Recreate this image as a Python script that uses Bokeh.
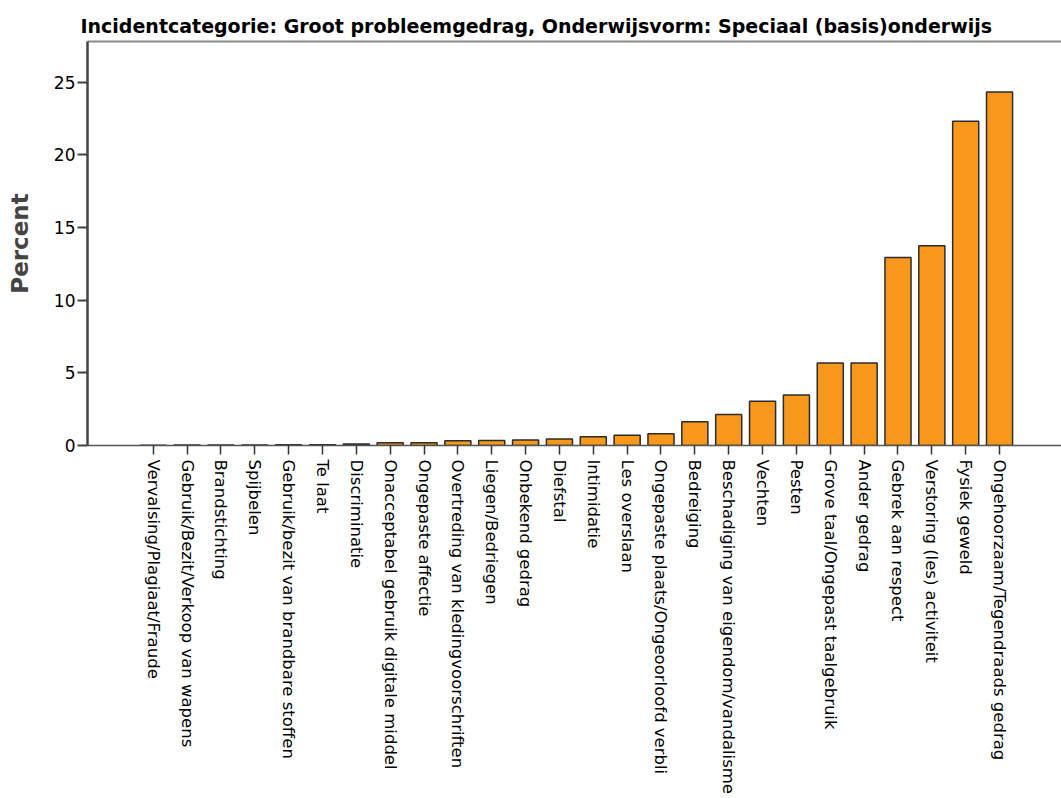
import math
from bokeh.plotting import figure
from bokeh.models import FixedTicker, LinearAxis, Range1d
from bokeh.embed import file_html
from bokeh.resources import INLINE

title_text = "Incidentcategorie: Groot probleemgedrag, Onderwijsvorm: Speciaal (basis)onderwijs"
y_label = "Percent"

categories = [
    "Vervalsing/Plagiaat/Fraude",
    "Gebruik/Bezit/Verkoop van wapens",
    "Brandstichting",
    "Spijbelen",
    "Gebruik/bezit van brandbare stoffen",
    "Te laat",
    "Discriminatie",
    "Onacceptabel gebruik digitale middel",
    "Ongepaste affectie",
    "Overtreding van kledingvoorschriften",
    "Liegen/Bedriegen",
    "Onbekend gedrag",
    "Diefstal",
    "Intimidatie",
    "Les overslaan",
    "Ongepaste plaats/Ongeoorloofd verbli",
    "Bedreiging",
    "Beschadiging van eigendom/vandalisme",
    "Vechten",
    "Pesten",
    "Grove taal/Ongepast taalgebruik",
    "Ander gedrag",
    "Gebrek aan respect",
    "Verstoring (les) activiteit",
    "Fysiek geweld",
    "Ongehoorzaam/Tegendraads gedrag",
]

percent = [
    0.01, 0.03, 0.04, 0.04, 0.06, 0.06, 0.10, 0.19, 0.19, 0.33,
    0.35, 0.37, 0.45, 0.60, 0.70, 0.80, 1.63, 2.13, 3.04, 3.48,
    5.68, 5.68, 12.93, 13.74, 22.32, 24.33,
]

y_ticks = [0, 5, 10, 15, 20, 25]

positions = list(range(len(categories)))

p = figure(
    width=1061, height=798,
    output_backend="svg", toolbar_location=None,
    x_range=Range1d(-1.94, 26.83), y_range=Range1d(0, 27.8),
    min_border_left=87, min_border_top=41, min_border_bottom=353, min_border_right=0,
)
p.background_fill_color = "white"
p.border_fill_color = "white"
p.outline_line_color = None
p.xgrid.visible = False
p.ygrid.visible = False

p.vbar(x=positions, top=percent, width=0.77, bottom=0,
       fill_color="#F7981D", line_color="#2b2b2b", line_width=1.5)

# title
p.title.text = title_text
p.title.text_font = "DejaVu Sans"
p.title.text_font_style = "bold"
p.title.text_font_size = "19px"
p.title.align = "left"
p.title.offset = -7
p.title.text_color = "black"

# x axis
xa = p.xaxis[0]
xa.ticker = FixedTicker(ticks=positions)
xa.major_label_overrides = {i: c for i, c in zip(positions, categories)}
xa.major_label_orientation = -math.pi / 2
xa.major_label_text_font = "DejaVu Sans"
xa.major_label_text_font_size = "16.5px"
xa.major_label_text_color = "black"
xa.major_label_standoff = 5
xa.major_tick_in = 0
xa.major_tick_out = 9
xa.major_tick_line_color = "#333333"
xa.major_tick_line_width = 1.5
xa.minor_tick_line_color = None
xa.axis_line_color = "#555555"
xa.axis_line_width = 1.5

# y axis
ya = p.yaxis[0]
ya.ticker = FixedTicker(ticks=y_ticks)
ya.axis_label = y_label
ya.axis_label_text_font = "DejaVu Sans"
ya.axis_label_text_font_style = "bold"
ya.axis_label_text_font_size = "23px"
ya.axis_label_standoff = 18
ya.major_label_text_font = "DejaVu Sans"
ya.major_label_text_font_size = "17px"
ya.major_label_text_color = "black"
ya.major_label_standoff = 2
ya.major_tick_in = 0
ya.major_tick_out = 10
ya.major_tick_line_color = "#444444"
ya.major_tick_line_width = 2
ya.minor_tick_line_color = None
ya.axis_line_color = "#444444"
ya.axis_line_width = 2.5

# top frame line
top = LinearAxis(ticker=FixedTicker(ticks=[]), axis_line_color="#8a8a8a", axis_line_width=2,
                 major_tick_line_color=None, minor_tick_line_color=None,
                 major_label_text_font_size="0px", major_label_standoff=0)
p.add_layout(top, "above")

open("out.html", "w").write(file_html(p, INLINE))
